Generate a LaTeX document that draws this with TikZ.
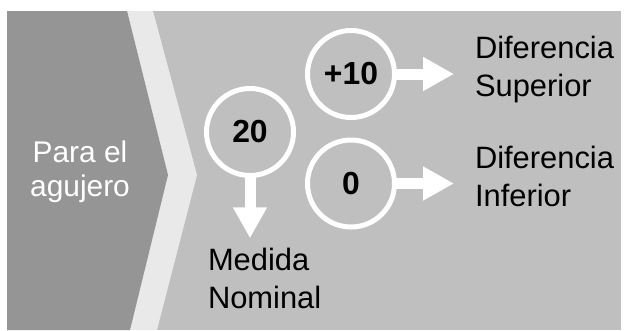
\documentclass[tikz,border=0pt]{standalone}
\usepackage{fontspec}
\setmainfont{Liberation Sans}
\usetikzlibrary{arrows.meta}
\definecolor{panel}{RGB}{191,191,191}
\definecolor{chevdark}{RGB}{149,149,149}
\definecolor{chevlight}{RGB}{233,233,233}
\begin{document}
\begin{tikzpicture}[x=1bp,y=-1bp,
  valuecircle/.style={circle, draw=white, line width=5bp, minimum size=87bp,
    inner sep=0pt, outer sep=0pt, font=\fontsize{32}{38}\selectfont\bfseries},
  desc/.style={inner sep=0pt, outer sep=0pt, anchor=base west, align=left,
    font=\fontsize{31}{37.5}\selectfont},
  bigarrow/.style={draw=white, line width=11bp, -{Triangle[width=32bp,length=31bp]}}
]
\useasboundingbox (0,0) rectangle (629,330);

% grey panel and chevron
\fill[panel] (7,11) rectangle (621,330);
\fill[chevlight] (7,11) -- (153,11) -- (197,175) -- (157,330) -- (7,330) -- cycle;
\fill[chevdark] (7,11) -- (127,11) -- (168,175) -- (130,330) -- (7,330) -- cycle;

% heading inside the chevron (anchored at the baseline of its last line)
\node[inner sep=0pt, anchor=base, align=center, text=white,
  font=\fontsize{30}{34}\selectfont] (hole) at (80,196) {Para el\\agujero};

% value circles
\node[valuecircle] (nom) at (250,132) {20};
\node[valuecircle] (sup) at (351,74) {+10};
\node[valuecircle] (inf) at (351,183.5) {0};

% captions (anchored at the baseline of their last line)
\node[desc] (dsup) at (475,96) {Diferencia\\Superior};
\node[desc] (dinf) at (475,206) {Diferencia\\Inferior};
\node[desc] (med) at (208,308) {Medida\\Nominal};

% arrows
\draw[bigarrow, shorten >=21bp] (sup.east) -- (sup.east -| dsup.west);
\draw[bigarrow, shorten >=21bp] (inf.east) -- (inf.east -| dinf.west);
\draw[bigarrow, shorten >=10bp] (nom.south) -- (nom.south |- med.north);
\end{tikzpicture}
\end{document}
